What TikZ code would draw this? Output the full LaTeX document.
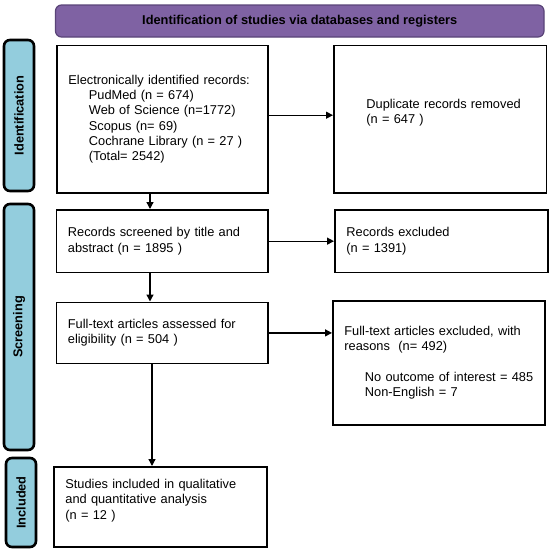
\documentclass[tikz,border=0pt]{standalone}
\usepackage{fontspec}
\setmainfont{Liberation Sans}
\usetikzlibrary{arrows.meta,calc}
\definecolor{hdrfill}{HTML}{7F62A3}
\definecolor{hdrdraw}{HTML}{5A4478}
\definecolor{sidefill}{HTML}{93CDDD}
\newcommand{\fs}{\fontsize{12.8}{15.3}\selectfont}
\newcommand{\ind}{\hspace*{20.5pt}}
\begin{document}
\begin{tikzpicture}[x=1pt,y=-1pt,
  box/.style={draw, line width=1.8pt, anchor=north west, inner xsep=11.5pt, inner ysep=0pt, align=left, font=\fs},
  side/.style={draw, line width=2.6pt, fill=sidefill, rounded corners=6pt, rotate=90, minimum height=30pt, inner sep=0pt, font=\fs\bfseries},
  hdr/.style={draw=hdrdraw, line width=1.2pt, fill=hdrfill, rounded corners=6pt, font=\fs\bfseries, minimum width=488.5pt, minimum height=32pt, inner sep=0pt},
  arr/.style={line width=1.3pt, -{Triangle[length=7pt,width=7pt]}}]
\useasboundingbox (0,0) rectangle (550,552);
\fill[white] (0,0) rectangle (550,552);

\node[hdr] (hdr) at (299.75,21) {Identification of studies via databases and registers};

\node[side, minimum width=151pt] (sid) at (19,115.5) {Identification};
\node[side, minimum width=246pt] (sscr) at (19,327) {Screening};
\node[side, minimum width=89pt] (sinc) at (21,502.5) {Included};

\node[box, text width=188pt, minimum height=147.4pt] (ident) at (56,44.6)
  {Electronically identified records:\\
   \ind PudMed (n = 674)\\
   \ind Web of Science (n=1772)\\
   \ind Scopus (n= 69)\\
   \ind Cochrane Library (n = 27 )\\
   \ind (Total= 2542)};
\node[box, text width=189.6pt, minimum height=147.4pt] (dup) at (333,44.6)
  {\hspace*{21pt}Duplicate records removed\\
   \hspace*{21pt}(n = 647 )\\ \mbox{}};
\node[box, text width=188.5pt, minimum height=62.5pt] (scr) at (55.5,209)
  {Records screened by title and\\ abstract (n = 1895 )};
\node[box, text width=190pt, minimum height=62.5pt] (exc) at (334,209)
  {Records excluded\\ (n = 1391)};
\node[box, text width=188.5pt, minimum height=61pt] (full) at (55.5,301.5)
  {Full-text articles assessed for\\ eligibility (n = 504 )};
\node[box, text width=189pt, minimum height=124pt] (exc2) at (332,300)
  {Full-text articles excluded, with\\
   reasons~~(n= 492)\\[15.3pt]
   \ind No outcome of interest = 485\\
   \ind Non-English = 7};
\node[box, text width=190pt, minimum height=80pt] (inc) at (53,466)
  {Studies included in qualitative\\ and quantitative analysis\\ (n = 12 )\\ \mbox{}};

\coordinate (ax) at (150,0);
\coordinate (bx) at (152,0);
\draw[arr] ([yshift=4pt]ident.east) -- ([yshift=4pt]dup.west);
\draw[arr] (ident.south -| ax) -- (scr.north -| ax);
\draw[arr] (scr.east) -- (scr.east -| exc.west);
\draw[arr] (scr.south -| ax) -- (full.north -| ax);
\draw[arr] (full.east) -- (full.east -| exc2.west);
\draw[arr] (full.south -| bx) -- (inc.north -| bx);
\end{tikzpicture}
\end{document}
